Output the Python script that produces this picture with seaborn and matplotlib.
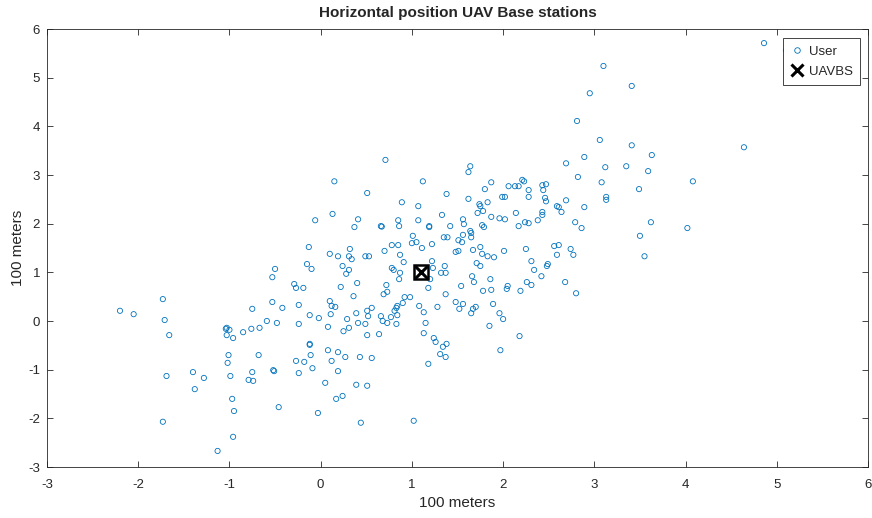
import matplotlib
matplotlib.use("Agg")
import matplotlib.pyplot as plt
import seaborn as sns
import pandas as pd
from matplotlib.lines import Line2D

# ---- data (units of 100 m) ----
user_x = [4.86, 5.10, 3.10, 3.41, 2.95, 2.81, 3.06, 3.41, 3.63, 4.64, 3.12, 3.35, 3.59, 0.71, 1.64, 2.69, 2.89,
          1.62, 2.82, 3.08, 3.49, 4.08, 3.13, 3.13, 2.69, 2.59, 2.61, 2.64, 2.89, 2.79, 2.86, 3.62, 4.02, 3.50,
          3.55, 2.56, 2.61, 2.74,
          0.15, 0.51, 0.89, -0.06, 0.13, 0.41, 0.37, 0.66, 0.67, 0.85, 0.86, 0.78, 0.85,
          1.12, 1.38, 1.07, 1.62, 1.80, 1.87, 2.06, 2.13, 2.17, 2.21, 2.23, 2.28, 2.28, 2.43, 2.47, 2.44, 2.46,
          2.47, 1.99, 2.02, 1.74, 1.75, 1.83, 1.78, 1.72, 1.87, 1.96, 2.02, 2.14, 2.17, 2.24, 2.28, 2.38, 2.43,
          2.43, 1.33, 1.07, 1.19, 1.19, 1.42, 1.56, 1.57, 1.77, 1.79, 1.01, 1.00, 1.05, 1.22, 1.35, 1.39, 1.56,
          1.51, 1.55, 1.64, 1.65, 1.65,
          -0.13, 0.10, 0.19, 0.32, 0.31, 0.34, 0.49, 0.53, 0.70, 0.87, 0.91, 1.11, 1.22, 1.23, 1.36, 1.32, 1.37,
          1.48, 1.51, 1.67, 1.75, 1.77, 1.83, 1.90, 1.71, 1.75, 1.66, 1.68, 1.86, 1.54, 1.78, 1.87, -0.15, -0.10,
          0.24, 0.31, 0.28, 0.78, 0.80, 0.87, 0.86, 1.20, -0.19, 0.22, 0.40, 0.72, 0.73, 0.69, 1.18, 1.37, 0.36,
          0.92, 0.98, 0.90, 0.10, 0.12, 0.16, 0.84, 0.83, 0.81, 1.08, 1.28, 1.48, 1.56, 1.52, 1.67, 1.70, 1.65,
          1.89, 1.96, 0.56, 0.51, 0.52, 0.39, 0.66, 0.77, 0.68, 0.73, 0.84, 0.83, 1.13, 1.15, -0.12, -0.02, 0.11,
          0.29, 0.41, 0.49, 0.08,
          2.01, 2.25, 2.77, 2.59, 2.31, 2.34, 2.48, 2.49, 2.42, 2.05, 2.04, 2.26, 2.31, 2.19, 2.68, 2.80, 2.00,
          -2.20, -2.05, -1.73, -1.71, -0.50, -0.53, -0.29, -0.27, -0.75, -0.53, -0.42, -0.24, -0.59, -0.48, -0.24,
          -1.03, -0.76, -0.67,
          -1.66, -1.04, -1.00, -1.03, -0.96, -0.85, -1.01, -1.02, -0.68, -0.27, -1.69, -1.40, -1.28, -1.38, -0.99,
          -0.75, -0.79, -0.74, -0.52, -0.51, -0.24, -0.97, -0.95, -0.46, -1.73, -0.96, -1.13,
          0.25, 0.31, 0.51, 0.64, 1.13, 1.24, 1.26, 1.34, 1.38, 1.31, 1.37, 1.18, -0.12, -0.12, -0.11, -0.18,
          -0.09, 0.08, 0.19, 0.27, 0.12, 0.43, 0.56, 0.19, 0.05, 0.39, 0.51, 0.17, 0.24, -0.03, 0.44, 1.02,
          1.85, 2.18, 1.97]
user_y = [5.71, 5.56, 5.24, 4.83, 4.68, 4.11, 3.72, 3.61, 3.41, 3.57, 3.16, 3.18, 3.08, 3.31, 3.18, 3.24, 3.37,
          3.06, 2.96, 2.85, 2.71, 2.87, 2.55, 2.49, 2.48, 2.36, 2.34, 2.24, 2.34, 2.03, 1.91, 2.03, 1.91, 1.75,
          1.33, 1.54, 1.56, 1.48,
          2.87, 2.63, 2.44, 2.07, 2.20, 2.09, 1.93, 1.95, 1.94, 2.07, 1.95, 1.56, 1.56,
          2.87, 2.61, 2.36, 2.51, 2.71, 2.85, 2.77, 2.77, 2.77, 2.90, 2.87, 2.69, 2.55, 2.79, 2.81, 2.69, 2.53,
          2.46, 2.55, 2.55, 2.40, 2.36, 2.44, 2.26, 2.22, 2.14, 2.11, 2.09, 2.22, 1.95, 2.03, 2.01, 2.07, 2.24,
          2.18, 2.18, 2.07, 1.95, 1.93, 1.95, 2.09, 1.99, 1.97, 1.93, 1.75, 1.60, 1.62, 1.58, 1.72, 1.72, 1.77,
          1.66, 1.62, 1.85, 1.81, 1.72,
          1.52, 1.38, 1.33, 1.48, 1.33, 1.27, 1.33, 1.33, 1.44, 1.36, 1.21, 1.50, 1.23, 1.09, 1.13, 0.99, 0.99,
          1.42, 1.44, 1.46, 1.52, 1.38, 1.33, 1.31, 1.19, 1.13, 0.92, 0.80, 0.86, 0.72, 0.62, 0.64, 1.17, 1.07,
          1.13, 1.05, 0.97, 1.09, 1.05, 0.99, 0.86, 0.86, 0.68, 0.70, 0.78, 0.74, 0.60, 0.55, 0.68, 0.55, 0.51,
          0.49, 0.49, 0.37, 0.41, 0.31, 0.29, 0.31, 0.27, 0.21, 0.31, 0.29, 0.39, 0.35, 0.25, 0.25, 0.29, 0.16,
          0.35, 0.16, 0.27, 0.21, 0.10, 0.16, 0.10, 0.08, 0.00, -0.04, 0.12, -0.06, 0.18, -0.04, 0.12, 0.06, 0.14,
          0.04, -0.04, -0.06, -0.12,
          1.44, 1.48, 1.36, 1.36, 1.23, 1.05, 1.13, 1.17, 0.92, 0.72, 0.66, 0.80, 0.74, 0.62, 0.80, 0.57, 0.04,
          0.21, 0.14, 0.45, 0.02, 1.07, 0.90, 0.76, 0.68, 0.25, 0.39, 0.27, 0.33, 0.00, -0.04, -0.06,
          -0.14, -0.16, -0.14,
          -0.29, -0.16, -0.18, -0.29, -0.35, -0.23, -0.70, -0.86, -0.70, -0.82, -1.13, -1.05, -1.17, -1.40, -1.13,
          -1.05, -1.21, -1.23, -1.01, -1.03, -1.07, -1.60, -1.85, -1.77, -2.07, -2.38, -2.67,
          -0.21, -0.14, -0.29, -0.27, -0.25, -0.35, -0.43, -0.53, -0.47, -0.68, -0.74, -0.88, -0.49, -0.47, -0.70,
          -0.84, -0.97, -0.60, -0.64, -0.74, -0.82, -0.74, -0.76, -1.03, -1.27, -1.31, -1.33, -1.60, -1.54, -1.89,
          -2.09, -2.05,
          -0.10, -0.31, -0.60]
uav_x = [1.1]
uav_y = [1.0]

x_ticks = [-3, -2, -1, 0, 1, 2, 3, 4, 5, 6]
y_ticks = [-3, -2, -1, 0, 1, 2, 3, 4, 5, 6]

n = min(len(user_x), len(user_y))
users = pd.DataFrame({"x": user_x[:n], "y": user_y[:n]})

sns.set_theme(style="white")
plt.rcParams["font.family"] = ["Liberation Sans", "DejaVu Sans"]

fig = plt.figure(figsize=(8.72, 5.18), dpi=100)
ax = fig.add_axes([47 / 872, 1 - 467 / 518, (868 - 47) / 872, (467 - 29) / 518])

blue = (0.0, 0.447, 0.741)
sns.scatterplot(data=users, x="x", y="y", ax=ax, marker="o", s=14,
                facecolors="none", edgecolor=blue, linewidth=0.6, legend=False, zorder=2)
# UAV base station: square box + cross
ax.plot(uav_x, uav_y, linestyle="none", marker="s", markersize=10, markerfacecolor="none",
        markeredgecolor="black", markeredgewidth=1.8, zorder=3)
ax.plot(uav_x, uav_y, linestyle="none", marker="x", markersize=8, color="black",
        markeredgewidth=2.2, zorder=3)

handles = [Line2D([], [], linestyle="none", marker="o", markersize=4, markerfacecolor="none",
                  markeredgecolor=blue, markeredgewidth=0.6),
           Line2D([], [], linestyle="none", marker="x", markersize=8, color="black", markeredgewidth=2.2)]
leg = ax.legend(handles, ["User", "UAVBS"], loc="upper right", bbox_to_anchor=(0.990, 0.979),
                fontsize=9.5, frameon=True, fancybox=False, edgecolor=(0.15, 0.15, 0.15),
                borderpad=0.55, handletextpad=0.4, handlelength=1.0, labelspacing=0.6,
                borderaxespad=0.0, framealpha=1.0)
leg.get_frame().set_linewidth(0.6)
leg.set_zorder(5)

ax.set_xlim(-3, 6)
ax.set_ylim(-3, 6)
ax.set_xticks(x_ticks)
ax.set_yticks(y_ticks)
ax.set_xticklabels([str(t) for t in x_ticks])
ax.set_yticklabels([str(t) for t in y_ticks])
ax.tick_params(direction="in", length=4, width=0.6, colors=(0.15, 0.15, 0.15), labelsize=9.5,
               top=True, right=True, bottom=True, left=True)
ax.tick_params(axis="x", pad=9)
ax.tick_params(axis="y", pad=5)
for sp in ax.spines.values():
    sp.set_visible(True)
    sp.set_color((0.15, 0.15, 0.15))
    sp.set_linewidth(0.6)

ax.set_xlabel("100 meters", fontsize=11, color=(0.15, 0.15, 0.15), labelpad=3)
ax.set_ylabel("100 meters", fontsize=11, color=(0.15, 0.15, 0.15), labelpad=2)
ax.set_title("Horizontal position UAV Base stations", fontsize=11, fontweight="bold", pad=9)

fig.savefig("out.png", dpi=100)
